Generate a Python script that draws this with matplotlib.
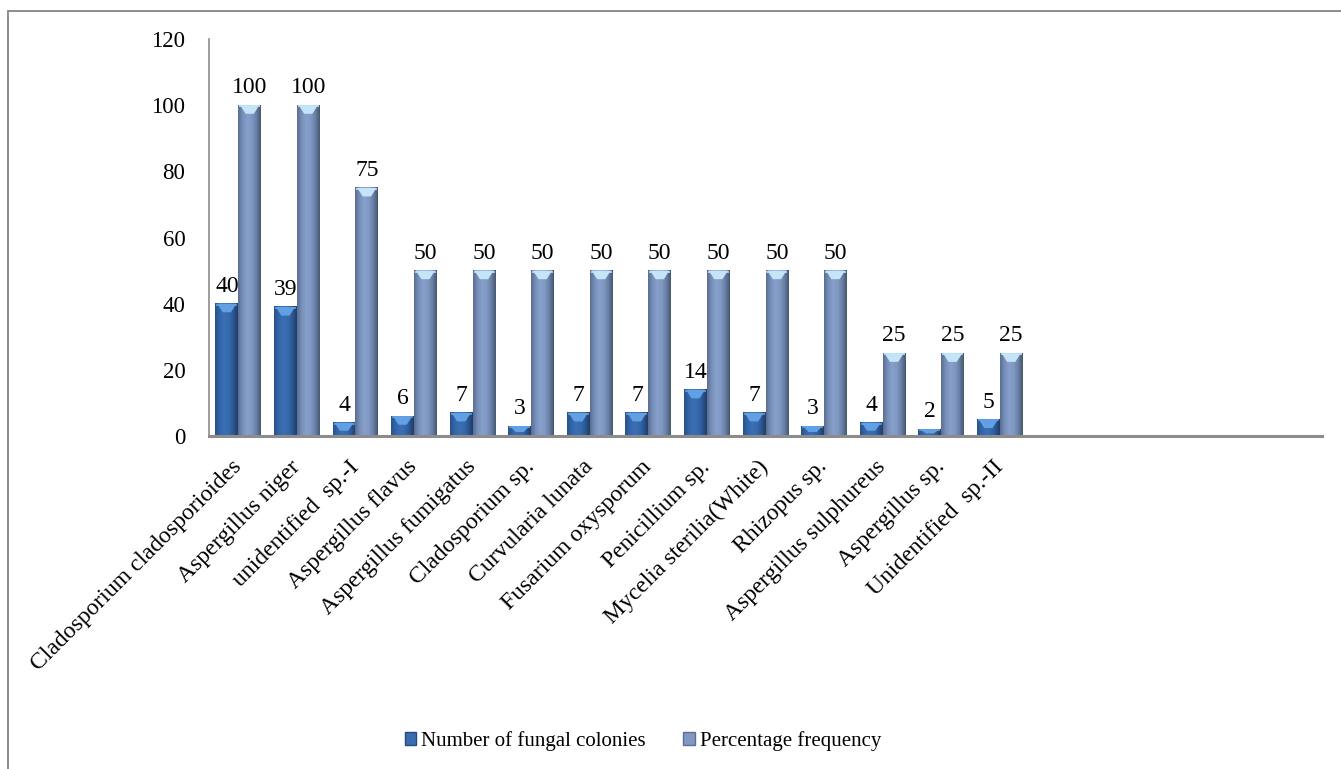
import matplotlib
matplotlib.use("Agg")
import matplotlib.pyplot as plt
import numpy as np
from matplotlib.colors import to_rgb
from matplotlib.patches import Patch, Polygon, Rectangle

plt.rcParams['font.family'] = ['Liberation Serif', 'DejaVu Serif']

# fungal isolates and their counts
species = ['Cladosporium cladosporioides', 'Aspergillus niger', 'unidentified  sp.-I',
           'Aspergillus flavus', 'Aspergillus fumigatus', 'Cladosporium sp.',
           'Curvularia lunata', 'Fusarium oxysporum', 'Penicillium sp.',
           'Mycelia sterilia(White)', 'Rhizopus sp.', 'Aspergillus sulphureus',
           'Aspergillus sp.', 'Unidentified  sp.-II']
colonies = [40, 39, 4, 6, 7, 3, 7, 7, 14, 7, 3, 4, 2, 5]
frequency = [100, 100, 75, 50, 50, 50, 50, 50, 50, 50, 50, 25, 25, 25]
n_slots = 19  # category axis leaves empty slots on the right
y_ticks = [0, 20, 40, 60, 80, 100, 120]

FS = 17
bw = 0.39

# horizontal shading stops for the two series (left -> right)
dark_stops = ['#28528b', '#3366a8', '#3a6fb4', '#376aac', '#2c5894', '#1f3d68']
light_stops = ['#5b6d90', '#7790bb', '#87a0cb', '#8099c3', '#6a80a6', '#485670']
dark_cap = '#62a0e6'
light_cap = '#c4e4f8'


def gradient(stops, n=64):
    cols = np.array([to_rgb(c) for c in stops])
    xs = np.linspace(0, 1, len(stops))
    t = np.linspace(0, 1, n)
    return np.stack([np.interp(t, xs, cols[:, k]) for k in range(3)], axis=-1)[None, :, :]


fig = plt.figure(figsize=(13.41, 7.69), dpi=100)
ax = fig.add_axes([209 / 1341, 333 / 769, 1113 / 1341, 397 / 769])

x = np.arange(len(species))
bars_a = ax.bar(x - bw / 2, colonies, bw, color='none', edgecolor='none')
bars_b = ax.bar(x + bw / 2, frequency, bw, color='none', edgecolor='none')


def shade(bars, stops, cap_color):
    img = gradient(stops)
    for p in bars:
        x0, w, h = p.get_x(), p.get_width(), p.get_height()
        ax.imshow(img, extent=[x0, x0 + w, 0, h], aspect='auto', zorder=2,
                  interpolation='bilinear')
        c = min(2.6, h * 0.6)
        cap = Polygon([(x0 + 0.08 * w, h), (x0 + 0.92 * w, h),
                       (x0 + 0.68 * w, h - c), (x0 + 0.32 * w, h - c)],
                      closed=True, facecolor=cap_color, edgecolor='none', zorder=3)
        ax.add_patch(cap)
        ax.add_patch(Rectangle((x0 + 0.04 * w, h - 0.6), 0.92 * w, 0.6,
                               facecolor=cap_color, edgecolor='none', zorder=3,
                               alpha=0.8))


shade(bars_a, dark_stops, dark_cap)
shade(bars_b, light_stops, light_cap)

for p, v in zip(bars_a, colonies):
    ax.annotate(str(v), (p.get_x() + p.get_width() / 2, p.get_height()),
                xytext=(0, 5), textcoords='offset points', ha='center', va='bottom',
                fontsize=FS)
for p, v in zip(bars_b, frequency):
    ax.annotate(str(v), (p.get_x() + p.get_width() / 2, p.get_height()),
                xytext=(0, 5), textcoords='offset points', ha='center', va='bottom',
                fontsize=FS)

ax.set_xlim(-0.5, n_slots - 0.5)
ax.set_ylim(0, 120)
ax.set_yticks(y_ticks)
ax.set_yticklabels([str(t) for t in y_ticks], fontsize=16.5)
ax.set_xticks(x)
ax.set_xticklabels(species, fontsize=FS, rotation=45, ha='right', va='center',
                   rotation_mode='anchor')
ax.tick_params(axis='y', length=0, pad=17)
ax.tick_params(axis='x', length=0, pad=20)

for s in ['top', 'right']:
    ax.spines[s].set_visible(False)
ax.spines['left'].set_color('#8c8c8c')
ax.spines['left'].set_linewidth(1.2)
ax.spines['bottom'].set_color('#8c8c8c')
ax.spines['bottom'].set_linewidth(2.2)
ax.spines['bottom'].set_zorder(4)

handles = [Patch(facecolor='#3a6db0', edgecolor='#244b80', label='Number of fungal colonies'),
           Patch(facecolor='#8098c2', edgecolor='#5d6f92', label='Percentage frequency')]
fig.legend(handles=handles, loc='center', bbox_to_anchor=(643 / 1341, 1 - 741 / 769),
           ncol=2, frameon=False, fontsize=15, handlelength=0.55, handleheight=0.55,
           handletextpad=0.25, columnspacing=1.8)

# outer chart frame
fig.patches.append(Rectangle((8 / 1341, -0.05), 1.1, 1 - 11 / 769 + 0.05,
                             transform=fig.transFigure, fill=False,
                             edgecolor='#8c8c8c', linewidth=1.4))

fig.savefig('out.png', dpi=100)
